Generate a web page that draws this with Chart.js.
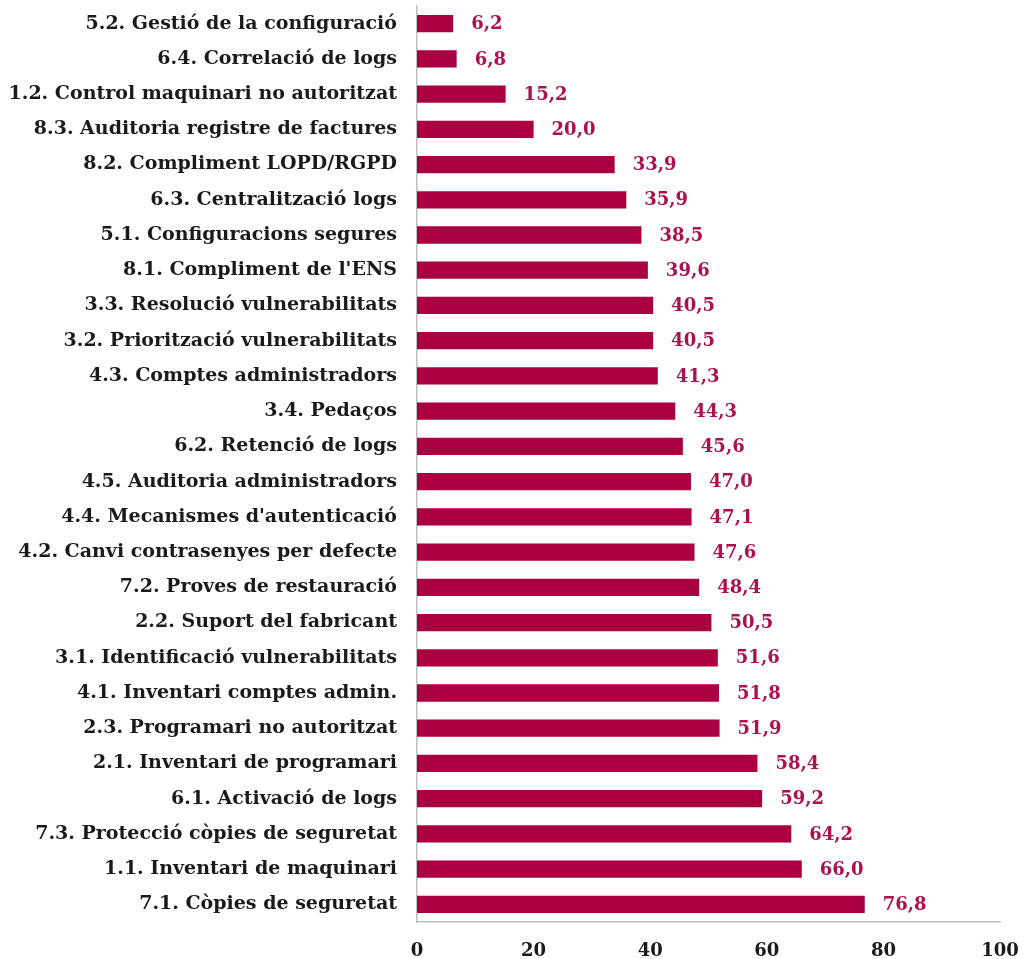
<!DOCTYPE html>
<html>
<head>
<meta charset="utf-8">
<script src="https://cdn.jsdelivr.net/npm/chart.js@4/dist/chart.umd.min.js"></script>
<style>
  html, body { margin: 0; padding: 0; background: #fff; }
  #wrap { width: 1024px; height: 959px; }
</style>
</head>
<body>
<div id="wrap"><canvas id="controls"></canvas></div>
<script>
const categories = [
  '5.2. Gestió de la configuració',
  '6.4. Correlació de logs',
  '1.2. Control maquinari no autoritzat',
  '8.3. Auditoria registre de factures',
  '8.2. Compliment LOPD/RGPD',
  '6.3. Centralització logs',
  '5.1. Configuracions segures',
  "8.1. Compliment de l'ENS",
  '3.3. Resolució vulnerabilitats',
  '3.2. Priorització vulnerabilitats',
  '4.3. Comptes administradors',
  '3.4. Pedaços',
  '6.2. Retenció de logs',
  '4.5. Auditoria administradors',
  "4.4. Mecanismes d'autenticació",
  '4.2. Canvi contrasenyes per defecte',
  '7.2. Proves de restauració',
  '2.2. Suport del fabricant',
  '3.1. Identificació vulnerabilitats',
  '4.1. Inventari comptes admin.',
  '2.3. Programari no autoritzat',
  '2.1. Inventari de programari',
  '6.1. Activació de logs',
  '7.3. Protecció còpies de seguretat',
  '1.1. Inventari de maquinari',
  '7.1. Còpies de seguretat'
];

const percentages = [
  6.2, 6.8, 15.2, 20.0, 33.9, 35.9, 38.5, 39.6, 40.5, 40.5, 41.3, 44.3, 45.6,
  47.0, 47.1, 47.6, 48.4, 50.5, 51.6, 51.8, 51.9, 58.4, 59.2, 64.2, 66.0, 76.8
];

const xTicks = [0, 20, 40, 60, 80, 100];

const FONT = '"DejaVu Serif", serif';

// valors al final de cada barra, amb coma decimal
const valueLabels = {
  id: 'valueLabels',
  afterDatasetsDraw(chart) {
    const ctx = chart.ctx;
    const meta = chart.getDatasetMeta(0);
    ctx.save();
    ctx.font = 'bold 18px ' + FONT;
    ctx.fillStyle = '#ab1150';
    ctx.textAlign = 'left';
    ctx.textBaseline = 'middle';
    meta.data.forEach((bar, i) => {
      const txt = percentages[i].toFixed(1).replace('.', ',');
      ctx.fillText(txt, bar.x + 18, bar.y + 1);
    });
    ctx.restore();
  }
};

// sense marges extra per a les etiquetes dels extrems
function noPadding(scale) {
  scale.paddingTop = 0;
  scale.paddingBottom = 0;
  scale.paddingLeft = 0;
  scale.paddingRight = 0;
}

new Chart(document.getElementById('controls'), {
  type: 'bar',
  data: {
    labels: categories,
    datasets: [{
      data: percentages,
      backgroundColor: '#aa0041',
      borderWidth: 0,
      categoryPercentage: 1,
      barPercentage: 0.49
    }]
  },
  options: {
    indexAxis: 'y',
    responsive: true,
    maintainAspectRatio: false,
    animation: false,
    layout: { padding: { top: 6, right: 24, left: 0, bottom: 0 } },
    plugins: {
      legend: { display: false },
      tooltip: { enabled: false }
    },
    scales: {
      x: {
        min: 0,
        max: 100,
        afterBuildTicks: (scale) => { scale.ticks = xTicks.map(v => ({ value: v })); },
        afterFit: (scale) => { scale.height = 37; noPadding(scale); },
        grid: { display: false, drawTicks: false },
        border: { display: true, color: '#bfbfbf', width: 1.5 },
        ticks: {
          padding: 19,
          color: '#1a1a1a',
          font: { family: FONT, size: 18, weight: 'bold' }
        }
      },
      y: {
        afterFit: (scale) => { scale.width = 417; noPadding(scale); },
        grid: { display: false, drawTicks: false },
        border: { display: true, color: '#bfbfbf', width: 1.5 },
        ticks: {
          padding: 20,
          color: '#1a1a1a',
          autoSkip: false,
          font: { family: FONT, size: 19, weight: 'bold' }
        }
      }
    }
  },
  plugins: [valueLabels]
});
</script>
</body>
</html>
